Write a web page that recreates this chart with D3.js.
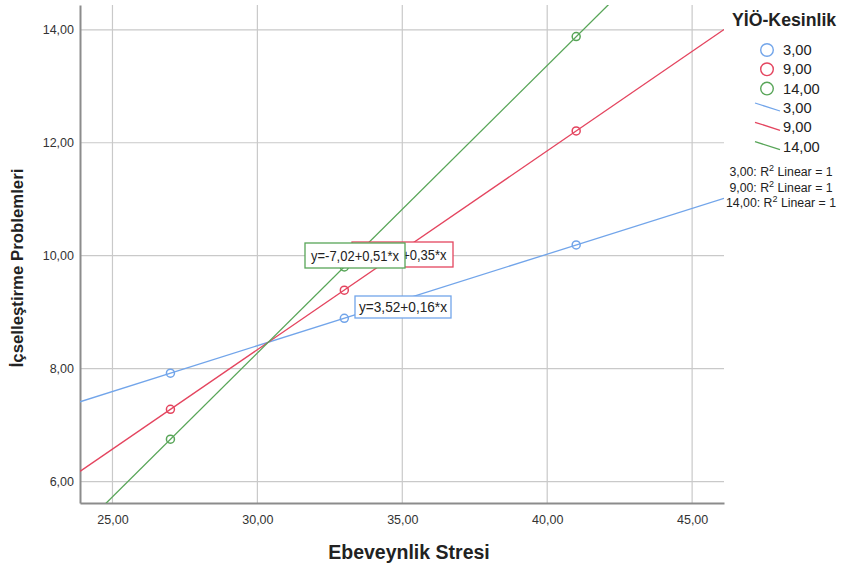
<!DOCTYPE html>
<html><head><meta charset="utf-8">
<script src="https://cdn.jsdelivr.net/npm/d3@7"></script>
<style>body{margin:0;background:#fff}svg{font-family:"Liberation Sans",Arial,sans-serif}</style>
</head><body><svg id="c" width="841" height="570"></svg>
<script>
const groups = ["3,00","9,00","14,00"];
const colors = ["#72a5ea","#e4455f","#58a558"];
const xValues = [27, 33, 41];
const yBlue = [7.92, 8.89, 10.19];
const yRed = [7.28, 9.39, 12.21];
const yGreen = [6.75, 9.80, 13.88];
const equations = ["y=3,52+0,16*x","y=-2,22+0,35*x","y=-7,02+0,51*x"];
const xTicks = [25,30,35,40,45];
const yTicks = [6,8,10,12,14];
const series = [yBlue, yRed, yGreen];

const svg = d3.select("#c");
const L=80, R=724, T=5, B=503;
const x = d3.scaleLinear().domain([23.88, 46.1]).range([L, R]);
const y = d3.scaleLinear().domain([5.62, 14.44]).range([B, T]);
const fmt = v => d3.format(".2f")(v).replace(".", ",");

function fit(ys){
  const mx = d3.mean(xValues), my = d3.mean(ys);
  const b = d3.sum(xValues.map((xv,j)=>(xv-mx)*(ys[j]-my))) / d3.sum(xValues.map(xv=>(xv-mx)**2));
  return {a: my - b*mx, b};
}

// grid
svg.append("g").selectAll("line").data(xTicks).join("line")
  .attr("x1", d=>x(d)).attr("x2", d=>x(d)).attr("y1", T).attr("y2", B)
  .attr("stroke","#c9c9c9").attr("stroke-width",1.2);
svg.append("g").selectAll("line").data(yTicks).join("line")
  .attr("x1", L).attr("x2", R).attr("y1", d=>y(d)).attr("y2", d=>y(d))
  .attr("stroke","#c9c9c9").attr("stroke-width",1.2);

// axes
const xAx = svg.append("g").attr("transform",`translate(0,${B})`)
  .call(d3.axisBottom(x).tickValues(xTicks).tickFormat(fmt).tickSize(0).tickPadding(12));
const yAx = svg.append("g").attr("transform",`translate(${L},0)`)
  .call(d3.axisLeft(y).tickValues(yTicks).tickFormat(fmt).tickSize(0).tickPadding(6));
[xAx,yAx].forEach(a=>{
  a.select(".domain").attr("stroke","#8c8c8c").attr("stroke-width",2);
  a.selectAll("text").attr("font-size",12.5).attr("fill","#333").attr("font-family","Liberation Sans, Arial, sans-serif");
});

// clip
svg.append("clipPath").attr("id","pc").append("rect").attr("x",L).attr("y",T).attr("width",R-L).attr("height",B-T);

// fit lines
const lg = svg.append("g").attr("clip-path","url(#pc)");
series.forEach((s,i)=>{
  const f = fit(s);
  const ext = x.domain();
  lg.append("line")
    .attr("x1", x(ext[0])).attr("y1", y(f.a+f.b*ext[0]))
    .attr("x2", x(ext[1])).attr("y2", y(f.a+f.b*ext[1]))
    .attr("stroke", colors[i]).attr("stroke-width",1.3);
});
// points
series.forEach((s,i)=>{
  svg.append("g").selectAll("circle").data(s).join("circle")
    .attr("cx",(d,j)=>x(xValues[j])).attr("cy",d=>y(d)).attr("r",4)
    .attr("fill","none").attr("stroke",colors[i]).attr("stroke-width",1.5);
});

// equation boxes (order: blue, red, green on top)
const boxes = [
  {i:0, bx:355, by:296, w:96, h:22},
  {i:1, bx:352, by:242, w:101, h:25},
  {i:2, bx:305, by:243, w:100, h:25}
];
boxes.forEach(b=>{
  const g = svg.append("g");
  g.append("rect").attr("x",b.bx).attr("y",b.by).attr("width",b.w).attr("height",b.h)
    .attr("fill","#fff").attr("stroke",colors[b.i]).attr("stroke-width",1.3);
  g.append("text").attr("x",b.bx+b.w/2).attr("y",b.by+b.h/2+5).attr("text-anchor","middle")
    .attr("font-size",13.8).attr("fill","#222").attr("textLength",88).attr("lengthAdjust","spacingAndGlyphs").text(equations[b.i]);
});

// axis titles
svg.append("text").attr("x",409).attr("y",559).attr("text-anchor","middle")
  .attr("font-size",19.5).attr("font-weight","bold").attr("fill","#222").text("Ebeveynlik Stresi");
svg.append("text").attr("transform","translate(23,268) rotate(-90)").attr("text-anchor","middle")
  .attr("font-size",16.8).attr("font-weight","bold").attr("fill","#222").text("İçselleştirme Problemleri");

// legend
const lgd = svg.append("g");
lgd.append("text").attr("x",732).attr("y",26).attr("font-size",17.7).attr("font-weight","bold").attr("fill","#222").text("YİÖ-Kesinlik");
groups.forEach((g,i)=>{
  const cy = 50 + i*19.3;
  lgd.append("circle").attr("cx",767).attr("cy",cy).attr("r",6.3).attr("fill","none").attr("stroke",colors[i]).attr("stroke-width",1.4);
  lgd.append("text").attr("x",783).attr("y",cy+5).attr("font-size",14.7).attr("fill","#222").text(g);
});
groups.forEach((g,i)=>{
  const cy = 108 + i*19.3;
  lgd.append("line").attr("x1",755).attr("y1",cy-5).attr("x2",780).attr("y2",cy+3).attr("stroke",colors[i]).attr("stroke-width",1.3);
  lgd.append("text").attr("x",783).attr("y",cy+5).attr("font-size",14.7).attr("fill","#222").text(g);
});
groups.forEach((g,i)=>{
  const t = lgd.append("text").attr("x",781).attr("y",176+i*15.5).attr("text-anchor","middle").attr("font-size",12.3).attr("fill","#222");
  t.append("tspan").text(g+": R");
  t.append("tspan").attr("dy",-5).attr("font-size",9).text("2");
  t.append("tspan").attr("dy",5).text(" Linear = 1");
});
</script></body></html>
